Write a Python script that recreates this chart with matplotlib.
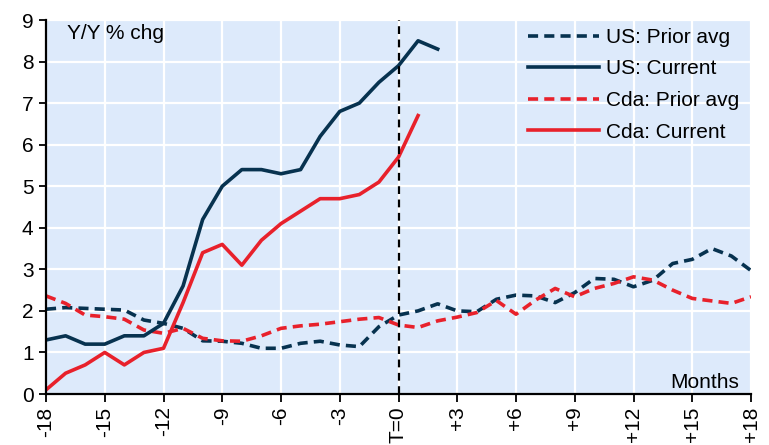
import matplotlib
matplotlib.use("Agg")
import matplotlib.pyplot as plt
import numpy as np

plt.rcParams['font.family'] = ['Liberation Sans', 'DejaVu Sans']

months = list(range(-18, 19))
us_prior = [2.04, 2.08, 2.06, 2.04, 2.02, 1.78, 1.70, 1.58, 1.28, 1.27, 1.22, 1.10, 1.10, 1.22, 1.27, 1.18, 1.14, 1.62, 1.90, 2.00, 2.17, 2.00, 1.98, 2.28, 2.38, 2.36, 2.20, 2.44, 2.78, 2.76, 2.58, 2.74, 3.14, 3.24, 3.50, 3.32, 2.97]
cda_prior = [2.36, 2.18, 1.90, 1.86, 1.80, 1.54, 1.46, 1.58, 1.34, 1.28, 1.27, 1.40, 1.58, 1.64, 1.68, 1.74, 1.80, 1.84, 1.66, 1.60, 1.76, 1.85, 1.96, 2.25, 1.92, 2.26, 2.54, 2.34, 2.54, 2.66, 2.82, 2.74, 2.50, 2.30, 2.24, 2.18, 2.34]
us_current = [1.3, 1.4, 1.2, 1.2, 1.4, 1.4, 1.7, 2.6, 4.2, 5.0, 5.4, 5.4, 5.3, 5.4, 6.2, 6.8, 7.0, 7.5, 7.9, 8.5, 8.3]
cda_current = [0.1, 0.5, 0.7, 1.0, 0.7, 1.0, 1.1, 2.2, 3.4, 3.6, 3.1, 3.7, 4.1, 4.4, 4.7, 4.7, 4.8, 5.1, 5.7, 6.7]

xticks = list(range(-18, 19, 3))
xticklabels = ['-18', '-15', '-12', '-9', '-6', '-3', 'T=0', '+3', '+6', '+9', '+12', '+15', '+18']

navy = '#07324F'
red = '#E8212B'
FS = 15

fig = plt.figure(figsize=(7.69, 4.45), dpi=100)
ax = fig.add_axes([46/769, 1-394/445, (751-46)/769, (394-20)/445])
ax.set_facecolor('#DDEAFB')

ax.plot(months, us_prior, color=navy, lw=2.6, ls=(0, (2.8, 1.7)), label='US: Prior avg', zorder=3)
ax.plot(months[:len(us_current)], us_current, color=navy, lw=2.6, label='US: Current', zorder=4)
ax.plot(months, cda_prior, color=red, lw=2.6, ls=(0, (2.8, 1.7)), label='Cda: Prior avg', zorder=3)
ax.plot(months[:len(cda_current)], cda_current, color=red, lw=2.6, label='Cda: Current', zorder=4)

ax.axvline(0, color='black', lw=1.6, ls=(0, (3.5, 2.5)), zorder=5)

ax.set_xlim(-18, 18)
ax.set_ylim(0, 9)
ax.set_xticks(xticks)
ax.set_xticklabels(xticklabels, rotation=90, fontsize=FS)
ax.set_yticks(range(0, 10))
ax.tick_params(axis='y', labelsize=FS, length=5, width=1.3, direction='out', pad=4)
ax.tick_params(axis='x', length=6, width=1.3, direction='out', pad=3)
ax.grid(True, color='white', lw=1.6, zorder=1)
ax.set_axisbelow(True)
for s in ['top', 'right']:
    ax.spines[s].set_visible(False)
for s in ['left', 'bottom']:
    ax.spines[s].set_linewidth(1.6)
    ax.spines[s].set_zorder(6)

ax.text((67-46)/705, 0.99, 'Y/Y % chg', transform=ax.transAxes, fontsize=FS, va='top', ha='left')
ax.text((739-46)/705, 0.005, 'Months', transform=ax.transAxes, fontsize=FS, va='bottom', ha='right')

ax.legend(loc='upper left', bbox_to_anchor=((528-46)/705, (394-28)/374), frameon=False, fontsize=FS,
          handlelength=3.4, handletextpad=0.33, labelspacing=0.6, borderaxespad=0, borderpad=0)

fig.savefig('out.png', dpi=100)
